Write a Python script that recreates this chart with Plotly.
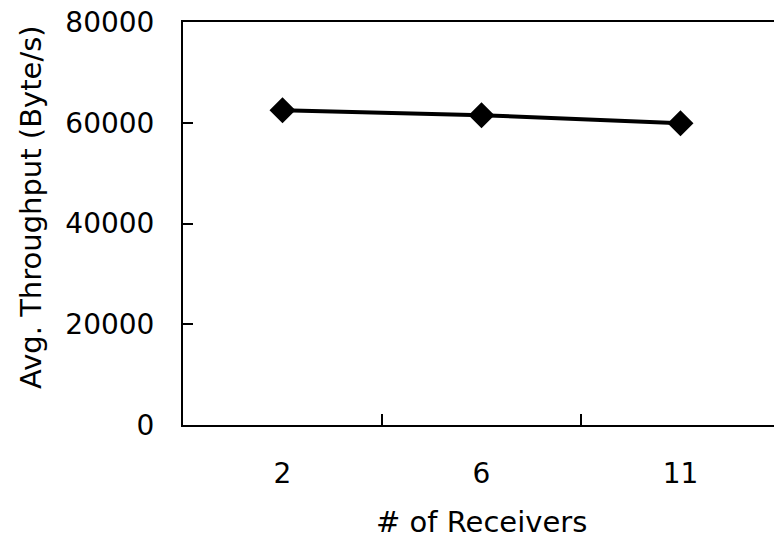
import plotly.graph_objects as go

receivers = ["2", "6", "11"]
throughput = [62500, 61500, 59900]
y_ticks = [0, 20000, 40000, 60000, 80000]

FONT = "DejaVu Sans"

W, H = 774, 545
L, T, B = 183, 22, 120
PW, PH = W - L, H - T - B

fig = go.Figure()
fig.add_trace(go.Scatter(
    x=receivers, y=throughput, mode="lines+markers",
    line=dict(color="black", width=4),
    marker=dict(symbol="diamond", size=20, color="black"),
    showlegend=False,
))

fig.update_layout(
    width=W, height=H,
    margin=dict(l=L, r=0, t=T, b=B),
    paper_bgcolor="white", plot_bgcolor="white",
    font=dict(family=FONT, size=28, color="black"),
    xaxis=dict(
        type="category",
        range=[-0.5, 2.47],
        tickson="boundaries",
        ticks="inside", ticklen=11, tickwidth=2, tickcolor="black",
        showline=True, linecolor="black", linewidth=2, mirror=True,
        showgrid=False, zeroline=False,
        ticklabelstandoff=22,
        automargin=False,
    ),
    yaxis=dict(
        range=[0, 80000],
        tickvals=y_ticks, ticktext=[str(v) for v in y_ticks],
        ticks="inside", ticklen=10, tickwidth=2, tickcolor="black",
        showline=True, linecolor="black", linewidth=2,
        showgrid=False, zeroline=False,
        ticklabelstandoff=21,
        automargin=False,
    ),
    annotations=[
        dict(text="# of Receivers", xref="paper", yref="paper",
             x=(481 - L) / PW, y=-(522 - (T + PH)) / PH,
             xanchor="center", yanchor="middle", showarrow=False,
             font=dict(size=29)),
        dict(text="Avg. Throughput (Byte/s)", xref="paper", yref="paper",
             x=-(L - 31) / PW, y=((T + PH) - 207) / PH, textangle=-90,
             xanchor="center", yanchor="middle", showarrow=False,
             font=dict(size=29)),
    ],
)

fig.write_html(
    "out.html",
    config={"displayModeBar": False},
    post_script="document.body.style.margin='0';document.body.style.overflow='hidden';",
)
